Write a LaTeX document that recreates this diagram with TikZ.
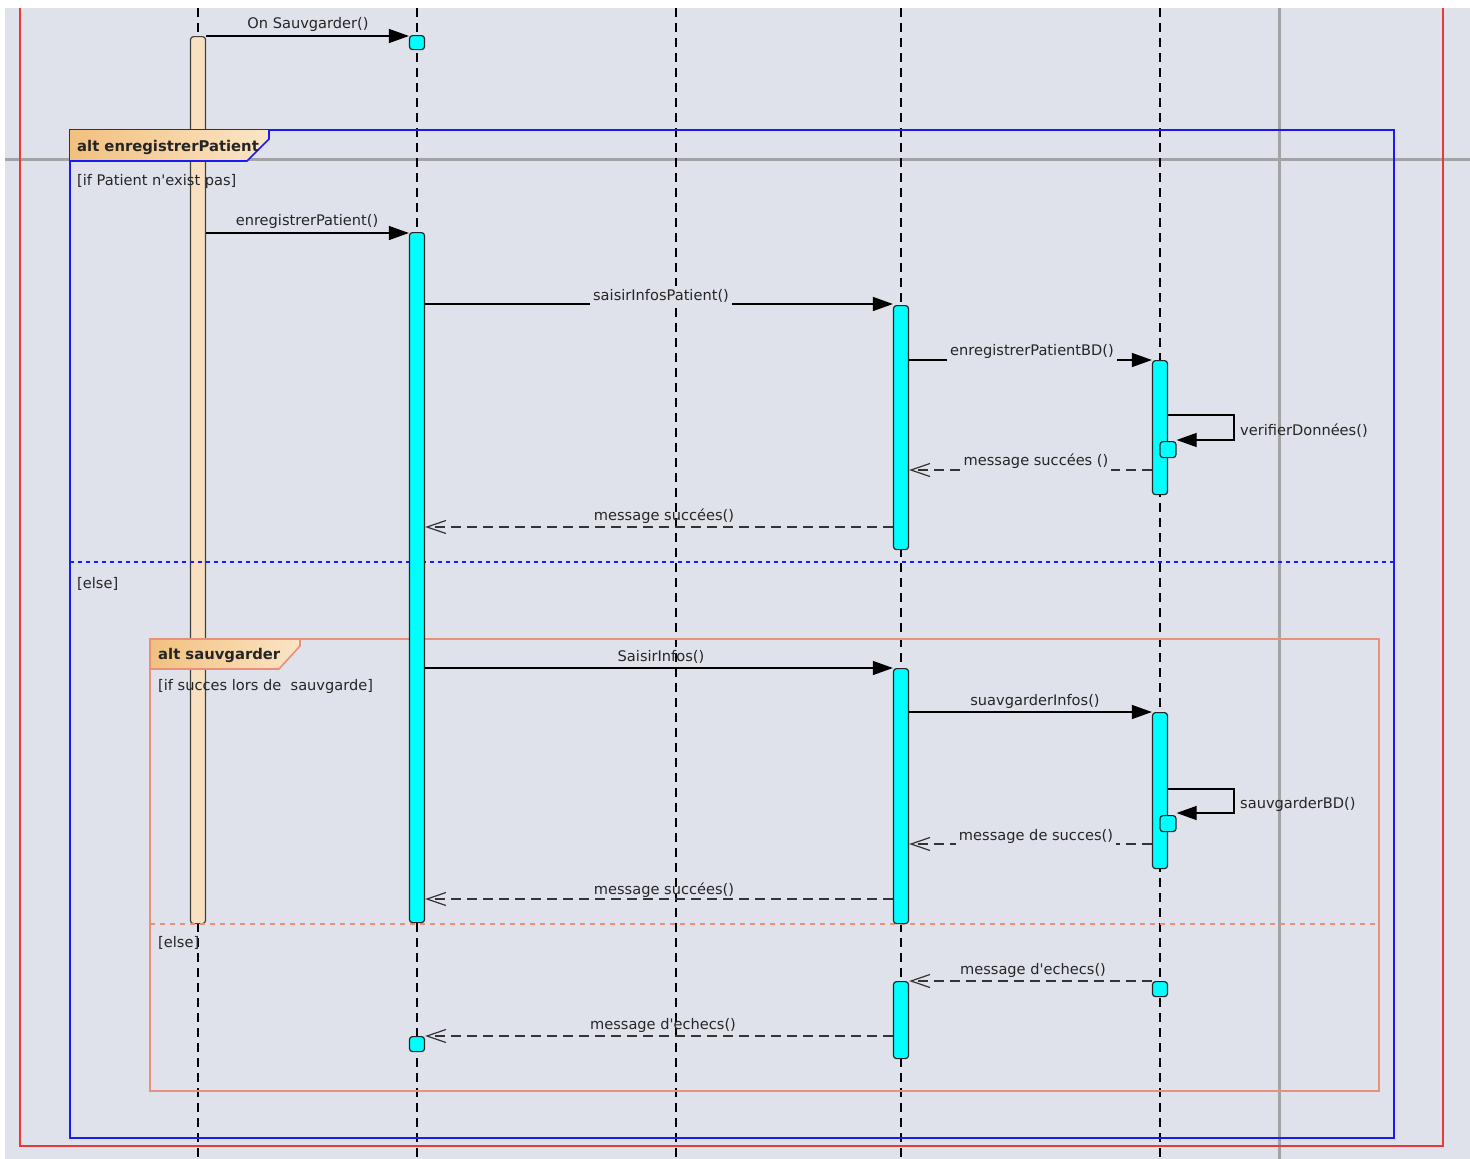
\documentclass[tikz,border=0pt]{standalone}
\usepackage{fontspec}
\newfontfamily\lfont{DejaVu Sans}
\usetikzlibrary{arrows.meta,calc}
\definecolor{bgc}{HTML}{DFE2EA}
\definecolor{grayln}{HTML}{A3A3A5}
\definecolor{redfr}{HTML}{E8383A}
\definecolor{bluefr}{HTML}{1A1AF5}
\definecolor{salmonfr}{HTML}{E8907A}
\definecolor{peach}{HTML}{F8E0C0}
\definecolor{cyanact}{HTML}{00FFFF}
\definecolor{txt}{HTML}{252525}
\definecolor{gradA}{HTML}{F2C07E}
\definecolor{gradB}{HTML}{FBE5C6}
\tikzset{
  lifeline/.style={draw=black, line width=1.2pt, dash pattern=on 9pt off 6pt},
  actbar/.style={draw=black!85, line width=1.2pt, fill=cyanact, rounded corners=3pt,
     minimum width=15pt, inner sep=0pt, anchor=north},
  peachbar/.style={actbar, fill=peach, draw=black!75},
  sync/.style={draw=black, line width=1.2pt, -{Triangle[length=20pt,width=14pt]}},
  reply/.style={draw=black!80, line width=1.2pt, dash pattern=on 10pt off 6pt,
     -{Straight Barb[length=19pt,width=13pt,line width=1.2pt]}},
  lbl/.style={font=\lfont\fontsize{14.6}{17}\selectfont, text=txt, inner sep=1pt},
  lblcut/.style={lbl, fill=bgc, inner xsep=3pt, inner ysep=3pt},
  guard/.style={lbl, anchor=west},
  framelbl/.style={font=\lfont\fontsize{14.8}{17}\selectfont\bfseries, text=txt, anchor=west, inner sep=0pt},
}
\begin{document}
\begin{tikzpicture}[x=1pt,y=-1pt]
\useasboundingbox (0,0) rectangle (1470,1159);
\fill[white] (0,0) rectangle (1470,1159);
\fill[bgc] (5,8) rectangle (1470,1159);
% grid lines
\draw[grayln, line width=3pt] (5,159) -- (1470,159);
\draw[grayln, line width=3pt] (1279,8) -- (1279,1159);
% outer red frame
\draw[redfr, line width=2pt] (20,8) -- (20,1146) -- (1443,1146) -- (1443,8);
% lifelines
\foreach \x/\n in {198/l1,417/l2,676/l3,901/l4,1160/l5}{
  \coordinate (\n top) at (\x,8);
  \coordinate (\n bot) at (\x,1159);
  \draw[lifeline] (\n top) -- (\n bot);
}
% peach activation
\node[peachbar, minimum height=887pt] (a1) at (198,36) {};
% blue alt frame
\draw[bluefr, line width=2pt] (70,130) rectangle (1394,1138);
\shade[left color=gradA, right color=gradB] (70,130) -- (269,130) -- (269,139) -- (247,161) -- (70,161) -- cycle;
\draw[bluefr, line width=1.6pt] (269,130) -- (269,139) -- (247,161) -- (70,161);
\node[framelbl] (f1) at (77,147) {alt enregistrerPatient};
\node[guard] (g1) at (76,181) {[if Patient n'exist pas]};
\coordinate (s1a) at (70,562);
\coordinate (s1b) at (1394,562);
\draw[bluefr, line width=1.2pt, dash pattern=on 4pt off 4pt] (s1a) -- (s1b);
\node[guard] (g2) at (76,584) {[else]};
% salmon alt frame
\draw[salmonfr, line width=2pt] (150,639) rectangle (1379,1091);
\shade[left color=gradA, right color=gradB] (150,639) -- (300,639) -- (300,646) -- (279,669) -- (150,669) -- cycle;
\draw[salmonfr, line width=1.6pt] (150,639) -- (300,639) -- (300,646) -- (279,669) -- (150,669) -- cycle;
\node[framelbl] (f2) at (158,655) {alt sauvgarder};
\node[guard] (g3) at (157,686) {[if succes lors de\ \ sauvgarde]};
\coordinate (s2a) at (150,924);
\coordinate (s2b) at (1379,924);
\draw[salmonfr, line width=1.2pt, dash pattern=on 5pt off 5pt] (s2a) -- (s2b);
\node[guard] (g4) at (157,943) {[else]};
% cyan activations
\node[actbar, minimum height=14pt] (b0) at (417,35) {};
\node[actbar, minimum height=690pt] (b1) at (417,232) {};
\node[actbar, minimum height=15pt] (b2) at (417,1036) {};
\node[actbar, minimum height=244pt] (d1) at (901,305) {};
\node[actbar, minimum height=255pt] (d2) at (901,668) {};
\node[actbar, minimum height=77pt] (d3) at (901,981) {};
\node[actbar, minimum height=134pt] (e1) at (1160,360) {};
\node[actbar, minimum height=16pt, minimum width=16pt] (n1) at (1168,441) {};
\node[actbar, minimum height=156pt] (e2) at (1160,712) {};
\node[actbar, minimum height=16pt, minimum width=16pt] (n2) at (1168,815) {};
\node[actbar, minimum height=15pt] (e3) at (1160,981) {};
% messages
\draw[sync] (a1.east |- 0,36) -- (b0.west |- 0,36);
\node[lbl] (t1) at (308,24) {On Sauvgarder()};
\draw[sync] (a1.east |- 0,233) -- (b1.west |- 0,233);
\node[lbl] (t2) at (307,221) {enregistrerPatient()};
\draw[sync] (b1.east |- 0,304) -- (d1.west |- 0,304);
\node[lblcut] (t3) at (661,296) {saisirInfosPatient()};
\draw[sync] (d1.east |- 0,360) -- (e1.west |- 0,360);
\node[lblcut] (t4) at (1032,351) {enregistrerPatientBD()};
\coordinate (v1) at (1234,415);
\coordinate (v2) at (1234,440);
\draw[sync] (e1.east |- v1) -- (v1) -- (v2) -- (n1.east |- v2);
\node[lbl, anchor=west] (t5) at (1239,431) {verifierDonnées()};
\draw[reply] (e1.west |- 0,470) -- (d1.east |- 0,470);
\node[lblcut] (t6) at (1036,461) {message succées ()};
\draw[reply] (d1.west |- 0,527) -- (b1.east |- 0,527);
\node[lbl] (t7) at (664,516) {message succées()};
\draw[sync] (b1.east |- 0,668) -- (d2.west |- 0,668);
\node[lbl] (t8) at (661,657) {SaisirInfos()};
\draw[sync] (d2.east |- 0,712) -- (e2.west |- 0,712);
\node[lbl] (t9) at (1035,701) {suavgarderInfos()};
\coordinate (v3) at (1234,789);
\coordinate (v4) at (1234,813);
\draw[sync] (e2.east |- v3) -- (v3) -- (v4) -- (n2.east |- v4);
\node[lbl, anchor=west] (t10) at (1239,804) {sauvgarderBD()};
\draw[reply] (e2.west |- 0,844) -- (d2.east |- 0,844);
\node[lblcut] (t11) at (1036,836) {message de succes()};
\draw[reply] (d2.west |- 0,899) -- (b1.east |- 0,899);
\node[lbl] (t12) at (664,890) {message succées()};
\draw[reply] (e3.west |- 0,981) -- (d3.east |- 0,981);
\node[lbl] (t13) at (1033,970) {message d'echecs()};
\draw[reply] (d3.west |- 0,1036) -- (b2.east |- 0,1036);
\node[lbl] (t14) at (663,1025) {message d'echecs()};
\end{tikzpicture}
\end{document}
